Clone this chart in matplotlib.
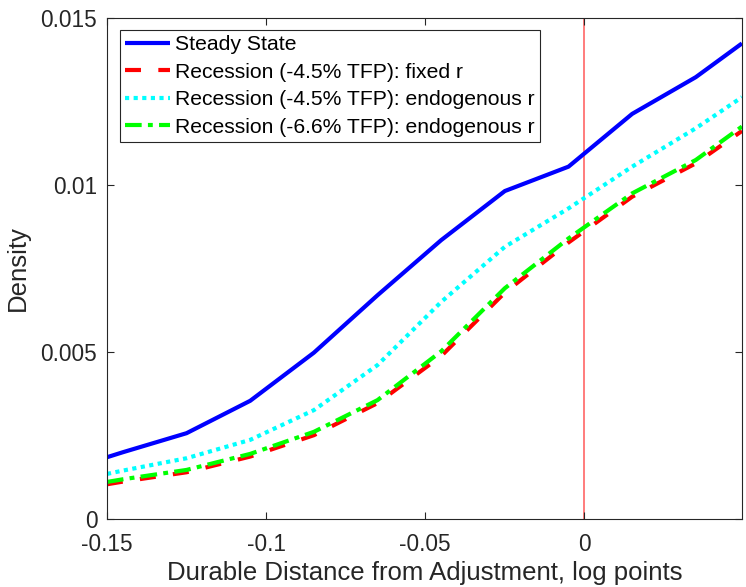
import matplotlib
matplotlib.use("Agg")
import matplotlib.pyplot as plt

plt.rcParams['font.family'] = ['Liberation Sans', 'DejaVu Sans']
plt.rcParams['lines.scale_dashes'] = False

x = [-0.15, -0.145, -0.125, -0.105, -0.085, -0.065, -0.045, -0.025, -0.005, 0.015, 0.035, 0.0495]
steady = [0.00185, 0.00200, 0.00257, 0.00354, 0.00498, 0.00670, 0.00835, 0.00982, 0.01055, 0.01213, 0.01323, 0.01424]
rec_fixed = [0.00104, 0.00112, 0.00140, 0.00187, 0.00251, 0.00347, 0.00488, 0.00678, 0.00828, 0.00965, 0.01065, 0.01162]
rec_endo = [0.00135, 0.00145, 0.00182, 0.00237, 0.00326, 0.00461, 0.00650, 0.00815, 0.00930, 0.01055, 0.01170, 0.01263]
rec_endo66 = [0.00111, 0.00119, 0.00147, 0.00195, 0.00261, 0.00356, 0.00502, 0.00691, 0.00840, 0.00975, 0.01075, 0.01175]

labels = ["Steady State",
          "Recession (-4.5% TFP): fixed r",
          "Recession (-4.5% TFP): endogenous r",
          "Recession (-6.6% TFP): endogenous r"]

xticks = [-0.15, -0.1, -0.05, 0]
xticklabels = ["-0.15", "-0.1", "-0.05", "0"]
yticks = [0, 0.005, 0.01, 0.015]
yticklabels = ["0", "0.005", "0.01", "0.015"]

fig = plt.figure(figsize=(7.46, 5.87), dpi=100)
ax = fig.add_axes([0.1434, 0.1158, 0.8512, 0.8535])

lw = 3.0
ax.plot(x, steady, color='#0000ff', lw=lw, label=labels[0], solid_capstyle='butt')
ax.plot(x, rec_fixed, color='#ff0000', lw=lw, dashes=(11.5, 12.5), label=labels[1])
ax.plot(x, rec_endo, color='#00ffff', lw=lw, dashes=(3.0, 3.2), label=labels[2])
ax.plot(x, rec_endo66, color='#00ff00', lw=lw, dashes=(12, 4.5, 3.5, 4.5), label=labels[3])
ax.axvline(0, color='#ff0000', lw=1.2, alpha=0.6, zorder=1)

ax.set_xlim(-0.15, 0.0495)
ax.set_ylim(0, 0.015)
ax.set_xticks(xticks)
ax.set_xticklabels(xticklabels)
ax.set_yticks(yticks)
ax.set_yticklabels(yticklabels)

dark = '#262626'
for s in ax.spines.values():
    s.set_color(dark)
    s.set_linewidth(0.8)
ax.tick_params(direction='in', top=True, right=True, length=5, width=0.8,
               colors=dark, labelsize=16.3, labelcolor=dark)
ax.tick_params(axis='x', pad=10)
ax.tick_params(axis='y', pad=7)

ax.set_xlabel("Durable Distance from Adjustment, log points", fontsize=18.5, color=dark, labelpad=4)
ax.set_ylabel("Density", fontsize=18.5, color=dark, labelpad=8)

leg = ax.legend(loc='upper left', bbox_to_anchor=(0.0205, 0.976), borderaxespad=0,
                fontsize=15.2, handlelength=2.1, handletextpad=0.25, labelspacing=0.4,
                borderpad=0.25, fancybox=False, framealpha=1, edgecolor='#262626')
leg.get_frame().set_linewidth(0.8)

fig.savefig("out.png", dpi=100)
